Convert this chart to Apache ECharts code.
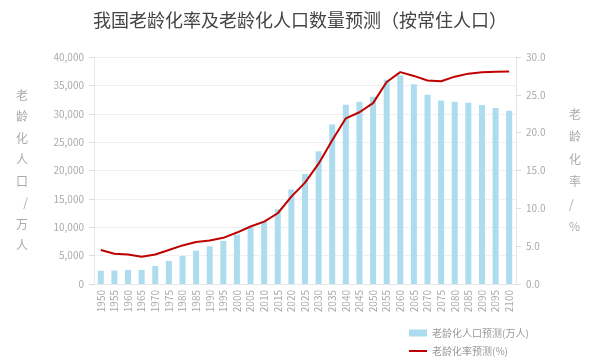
<!DOCTYPE html>
<html><head><meta charset="utf-8">
<script src="https://cdn.jsdelivr.net/npm/echarts@6/dist/echarts.min.js"></script>
<style>html,body{margin:0;padding:0;background:#fff}#c{width:600px;height:363px}</style>
</head><body><div id="c"></div>
<script>
const years = ['1950','1955','1960','1965','1970','1975','1980','1985','1990','1995','2000','2005','2010','2015','2020','2025','2030','2035','2040','2045','2050','2055','2060','2065','2070','2075','2080','2085','2090','2095','2100'];
const elderlyPop = [2350,2380,2470,2480,3180,4060,4940,5880,6650,7590,8700,10000,11000,13180,16650,19400,23400,28100,31600,32100,33000,36000,36800,35200,33350,32350,32100,31940,31530,31000,30530];
const agingRate = [4.5,4.0,3.9,3.6,3.9,4.5,5.1,5.55,5.75,6.1,6.8,7.6,8.25,9.35,11.55,13.4,15.9,19.0,21.9,22.7,23.9,26.7,28.0,27.5,26.9,26.8,27.4,27.8,28.0,28.05,28.1];
const leftTicks = [0,5000,10000,15000,20000,25000,30000,35000,40000];

const font = 'Noto Sans CJK SC';
const chart = echarts.init(document.getElementById('c'));
chart.setOption({
  animation:false,
  textStyle:{fontFamily:font},
  title:{text:'我国老龄化率及老龄化人口数量预测（按常住人口）',left:'center',top:6,
    textStyle:{fontSize:18,fontWeight:'normal',color:'#444',fontFamily:font}},
  grid:{left:94,right:84,top:57,bottom:79},
  legend:{orient:'vertical',left:404,top:323,itemGap:8,itemWidth:18,itemHeight:7,
    textStyle:{fontSize:10,color:'#999',fontFamily:font},
    data:[{name:'老龄化人口预测(万人)',icon:'rect'},{name:'老龄化率预测(%)',icon:'path://M0,0h18v2H0z'}]},
  xAxis:{type:'category',data:years,
    axisLine:{show:true,lineStyle:{color:'#e6e6e6'}},axisTick:{show:false},
    axisLabel:{rotate:90,fontSize:10,color:'#aaa',margin:6,interval:0}},
  yAxis:[{type:'value',min:leftTicks[0],max:leftTicks[leftTicks.length-1],interval:5000,
    name:'老\n龄\n化\n人\n口\n/\n万\n人',nameLocation:'middle',nameRotate:0,nameGap:66,
    nameTextStyle:{fontSize:12,color:'#aaa',lineHeight:21.5},
    axisLine:{show:true,lineStyle:{color:'#e6e6e6'}},axisTick:{show:true,lineStyle:{color:'#ddd'}},
    axisLabel:{fontSize:10,color:'#aaa',margin:10,formatter:v=>v.toLocaleString('en-US')},
    splitLine:{lineStyle:{color:'#f0f0f0'}}},
   {type:'value',min:0,max:30,interval:5,position:'right',
    name:'老\n龄\n化\n率\n/\n%',nameLocation:'middle',nameRotate:0,nameGap:53,
    nameTextStyle:{fontSize:12,color:'#aaa',lineHeight:22.5},
    axisLine:{show:true,lineStyle:{color:'#e6e6e6'}},axisTick:{show:true,lineStyle:{color:'#ddd'}},
    axisLabel:{fontSize:10,color:'#aaa',margin:10,formatter:v=>v.toFixed(1)},
    splitLine:{show:false}}],
  series:[
    {name:'老龄化人口预测(万人)',type:'bar',data:elderlyPop,barWidth:6,
     itemStyle:{color:'#addcef'}},
    {name:'老龄化率预测(%)',type:'line',yAxisIndex:1,data:agingRate,showSymbol:false,symbol:'none',
     lineStyle:{color:'#c00000',width:2},itemStyle:{color:'#c00000'}}
  ]
});
</script></body></html>
